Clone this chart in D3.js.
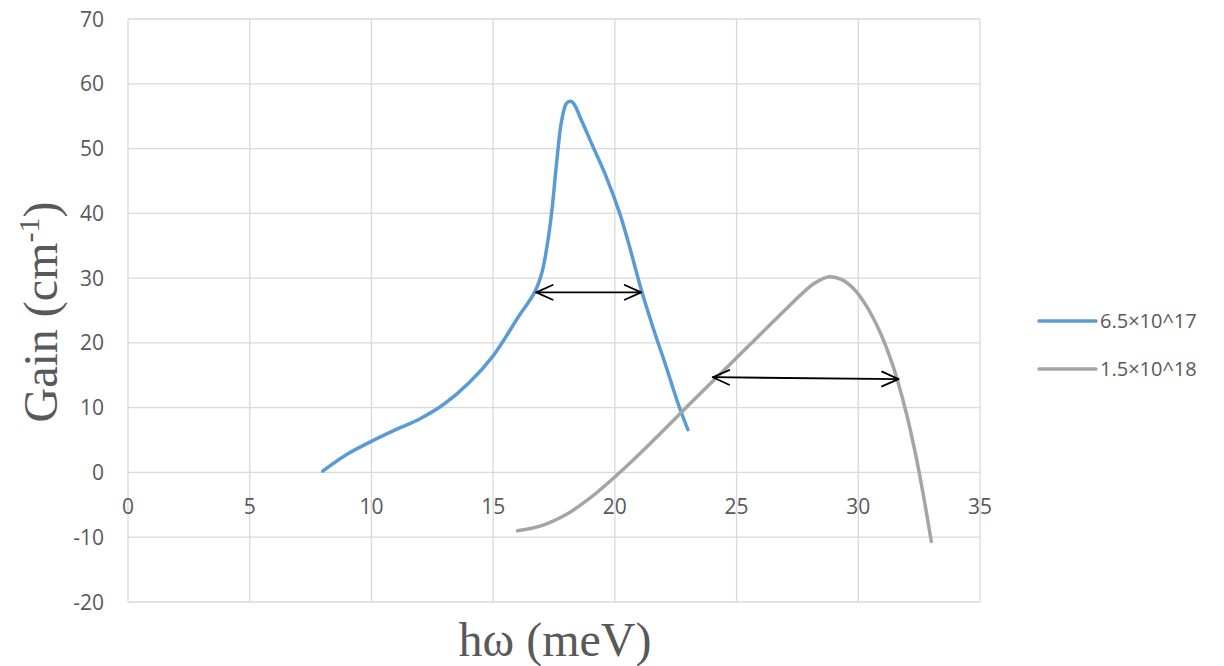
<!DOCTYPE html>
<html>
<head>
<meta charset="utf-8">
<script src="https://cdn.jsdelivr.net/npm/d3@7"></script>
<style>
  html, body { margin: 0; padding: 0; background: #fff; }
  svg { display: block; }
</style>
</head>
<body>
<svg id="chart" width="1224" height="666"></svg>
<script>
// Gain spectra for two carrier densities
const seriesNames = ["6.5×10^17", "1.5×10^18"];
const seriesColors = ["#5B9BD5", "#A5A5A5"];

const energyA = [8, 9, 10, 11, 12, 13, 14, 15, 16, 16.7, 17.0, 17.2, 17.4, 17.6, 17.8, 18.0, 18.15, 18.3, 18.6, 19.1, 19.65, 20.2, 20.6, 21.1, 21.6, 22.1, 22.6, 23];
const gainA   = [0.2, 2.8, 4.8, 6.6, 8.3, 10.6, 13.8, 18.0, 23.8, 27.8, 30.8, 34.6, 40, 47.5, 54, 56.9, 57.3, 57.0, 54.6, 50.3, 45.6, 40, 34.9, 28, 22, 16.4, 10.6, 6.6];

const energyB = [16, 17, 18, 19, 20, 21, 22, 23, 24, 25, 26, 27, 27.6, 28.2, 28.8, 29.3, 29.8, 30.3, 30.9, 31.3, 31.6, 32, 32.4, 32.7, 33];
const gainB   = [-9.0, -8.2, -6.5, -3.9, -0.7, 2.8, 6.5, 10.3, 14.0, 17.7, 21.4, 25.1, 27.3, 29.2, 30.2, 29.8, 28.4, 25.9, 21.6, 17.8, 14.35, 8.75, 1.95, -4.05, -10.65];

// FWHM markers: [x start, y start, x end, y end]
const fwhmA = [16.77, 27.8, 21.08, 27.8];
const fwhmB = [24.02, 14.7, 31.65, 14.4];

const xTicks = [0, 5, 10, 15, 20, 25, 30, 35];
const yTicks = [-20, -10, 0, 10, 20, 30, 40, 50, 60, 70];

const svg = d3.select("#chart");
const plotLeft = 128, plotRight = 980, plotTop = 19, plotBottom = 602;

const x = d3.scaleLinear().domain([0, 35]).range([plotLeft, plotRight]);
const y = d3.scaleLinear().domain([-20, 70]).range([plotBottom, plotTop]);

const labelFont = "'Open Sans', sans-serif";
const textColor = "#595959";
const gridColor = "#d9d9d9";

// gridlines
svg.append("g").selectAll("line").data(yTicks).join("line")
  .attr("x1", plotLeft).attr("x2", plotRight)
  .attr("y1", d => y(d)).attr("y2", d => y(d))
  .attr("stroke", gridColor).attr("stroke-width", 1.3);
svg.append("g").selectAll("line").data(xTicks).join("line")
  .attr("x1", d => x(d)).attr("x2", d => x(d))
  .attr("y1", plotTop).attr("y2", plotBottom)
  .attr("stroke", gridColor).attr("stroke-width", 1.3);

// y tick labels
svg.append("g").selectAll("text").data(yTicks).join("text")
  .attr("x", 104).attr("y", d => y(d))
  .attr("dy", "0.36em")
  .attr("text-anchor", "end")
  .attr("font-family", labelFont).attr("font-size", 21)
  .attr("fill", textColor)
  .text(d => d);

// x tick labels, placed just below the zero line
svg.append("g").selectAll("text").data(xTicks).join("text")
  .attr("x", d => x(d)).attr("y", y(0) + 42)
  .attr("text-anchor", "middle")
  .attr("font-family", labelFont).attr("font-size", 21)
  .attr("fill", textColor)
  .text(d => d);

// curves
const line = d3.line()
  .x(d => x(d[0])).y(d => y(d[1]))
  .curve(d3.curveCatmullRom.alpha(0.5));

const series = [
  d3.zip(energyA, gainA),
  d3.zip(energyB, gainB)
];

svg.append("g").selectAll("path").data(series).join("path")
  .attr("d", line)
  .attr("fill", "none")
  .attr("stroke", (d, i) => seriesColors[i])
  .attr("stroke-width", 3.5)
  .attr("stroke-linecap", "round")
  .attr("stroke-linejoin", "round");

// double-headed width arrows
function arrow(a) {
  const x1 = x(a[0]), y1 = y(a[1]), x2 = x(a[2]), y2 = y(a[3]);
  const ang = Math.atan2(y2 - y1, x2 - x1);
  const len = 18, half = 0.42;
  const g = svg.append("g")
    .attr("fill", "none").attr("stroke", "#000").attr("stroke-width", 1.8)
    .attr("stroke-linecap", "round").attr("stroke-linejoin", "round");
  g.append("line").attr("x1", x1).attr("y1", y1).attr("x2", x2).attr("y2", y2);
  const head = (px, py, a0) => {
    const p1 = [px + len * Math.cos(a0 + half), py + len * Math.sin(a0 + half)];
    const p2 = [px + len * Math.cos(a0 - half), py + len * Math.sin(a0 - half)];
    g.append("path").attr("d", `M${p1[0]},${p1[1]}L${px},${py}L${p2[0]},${p2[1]}`);
  };
  head(x1, y1, ang);
  head(x2, y2, ang + Math.PI);
}
arrow(fwhmA);
arrow(fwhmB);

// legend
const legend = svg.append("g");
[321, 369].forEach((ly, i) => {
  legend.append("line")
    .attr("x1", 1039).attr("x2", 1096).attr("y1", ly).attr("y2", ly)
    .attr("stroke", seriesColors[i]).attr("stroke-width", 3.5)
    .attr("stroke-linecap", "round");
  legend.append("text")
    .attr("x", 1100).attr("y", ly).attr("dy", "0.36em")
    .attr("font-family", labelFont).attr("font-size", 20)
    .attr("fill", textColor)
    .text(seriesNames[i]);
});

// axis titles
const titleFont = "'Liberation Serif', 'Times New Roman', serif";
svg.append("text")
  .attr("x", 555).attr("y", 656)
  .attr("text-anchor", "middle")
  .attr("font-family", titleFont).attr("font-size", 48)
  .attr("fill", textColor)
  .text("hω (meV)");

const yTitle = svg.append("text")
  .attr("transform", "translate(57,312) rotate(-90)")
  .attr("text-anchor", "middle")
  .attr("font-family", titleFont).attr("font-size", 48)
  .attr("fill", textColor);
yTitle.append("tspan").text("Gain (cm");
yTitle.append("tspan").attr("font-size", 30).attr("dy", -18).text("-1");
yTitle.append("tspan").attr("dy", 18).text(")");
</script>
</body>
</html>
